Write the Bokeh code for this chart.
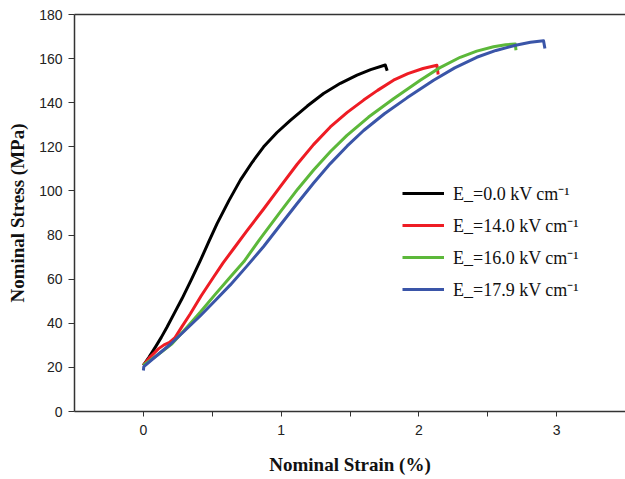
from bokeh.plotting import figure
from bokeh.models import Range1d, LinearAxis, FixedTicker, Legend, LegendItem
from bokeh.embed import file_html
from bokeh.resources import INLINE

# ---- data ----
labels = ["E_=0.0 kV cm\u207b\u00b9", "E_=14.0 kV cm\u207b\u00b9",
          "E_=16.0 kV cm\u207b\u00b9", "E_=17.9 kV cm\u207b\u00b9"]

strain_0 = [0, 0.04, 0.087, 0.13, 0.172, 0.225, 0.281, 0.35, 0.414, 0.475, 0.535, 0.62, 0.704, 0.79,
            0.873, 0.97, 1.067, 1.19, 1.308, 1.43, 1.551, 1.65, 1.756, 1.77]
stress_0 = [20.9, 24.6, 29.2, 33.6, 38.3, 44.6, 51.2, 60.0, 68.5, 77.0, 85.2, 95.5, 104.9, 113.0,
            120.0, 126.5, 132.0, 138.5, 144.2, 148.8, 152.5, 155.0, 157.1, 154.5]

strain_14 = [0, 0.05, 0.111, 0.15, 0.19, 0.23, 0.28, 0.341, 0.42, 0.51, 0.58, 0.655, 0.75, 0.873,
             0.99, 1.115, 1.235, 1.357, 1.48, 1.599, 1.70, 1.816, 1.92, 2.03, 2.131, 2.14]
stress_14 = [21, 24.8, 28.5, 30.2, 31.3, 33.5, 38.5, 44.3, 52.5, 61, 67.5, 73.8, 81.8, 91.8,
             101.6, 112, 121, 129, 135.6, 141.2, 145.6, 150.2, 153.2, 155.5, 157, 152.8]

strain_16 = [0, 0.1, 0.208, 0.31, 0.414, 0.52, 0.631, 0.73, 0.85, 0.994, 1.12, 1.236, 1.36, 1.478,
             1.635, 1.816, 2.01, 2.15, 2.30, 2.42, 2.542, 2.63, 2.70, 2.705]
stress_16 = [21, 25.5, 30.7, 37.8, 45.1, 53, 61, 68, 78.5, 90.5, 100.8, 109.5, 118, 125.2,
             133.5, 141.8, 150.2, 155.8, 160.6, 163.4, 165.4, 166.3, 166.6, 163.8]

strain_179 = [0, 0.003, 0.1, 0.196, 0.3, 0.414, 0.52, 0.631, 0.75, 0.873, 0.99, 1.115, 1.236, 1.357,
              1.48, 1.599, 1.75, 1.914, 2.107, 2.26, 2.42, 2.56, 2.711, 2.81, 2.905, 2.915]
stress_179 = [18.6, 20.3, 25.5, 30.5, 36.6, 43.4, 50.2, 57.4, 65.8, 74.8, 84.2, 94.2, 103.6, 112.4,
              120.4, 127.4, 135, 142.2, 150.2, 155.8, 160.6, 163.7, 166.2, 167.4, 168.1, 164.6]

series = [(strain_0, stress_0), (strain_14, stress_14), (strain_16, stress_16), (strain_179, stress_179)]
colors = ["#000000", "#ee1c24", "#5cb83a", "#3a55a8"]

x_ticks = [0, 1, 2, 3]
x_minor = [0.5, 1.5, 2.5]
y_ticks = list(range(0, 181, 20))

p = figure(width=625, height=479, output_backend="svg", toolbar_location=None,
           x_range=Range1d(-0.5, 3.5), y_range=Range1d(0, 180),
           min_border_left=74, min_border_right=0, min_border_top=14, min_border_bottom=68)
p.outline_line_color = None
p.grid.grid_line_color = None
p.background_fill_color = "white"

items = []
for (xs, ys), c, lab in zip(series, colors, labels):
    r = p.line(xs, ys, line_color=c, line_width=3, line_join="round")
    items.append(LegendItem(label=lab, renderers=[r]))

legend = Legend(items=items, location=(328, 110), glyph_width=42, glyph_height=20,
                label_height=20, spacing=8, label_standoff=9, padding=0, margin=0,
                border_line_color=None, background_fill_alpha=0,
                label_text_font="Liberation Serif", label_text_font_size="18px",
                label_text_color="#111111")
p.add_layout(legend, "center")

ax = p.xaxis[0]
ax.ticker = FixedTicker(ticks=x_ticks, minor_ticks=x_minor)
ax.axis_label = "Nominal Strain (%)"
ay = p.yaxis[0]
ay.ticker = FixedTicker(ticks=y_ticks)
ay.axis_label = "Nominal Stress (MPa)"

for a in (ax, ay):
    a.axis_line_color = "#333333"
    a.axis_line_width = 1.5
    a.major_tick_line_color = "#333333"
    a.minor_tick_line_color = "#333333"
    a.major_tick_in = 0
    a.minor_tick_in = 0
    a.major_label_text_font = "Liberation Sans"
    a.major_label_text_font_size = "14px"
    a.major_label_text_color = "#222222"
    a.axis_label_text_font = "Liberation Serif"
    a.axis_label_text_font_style = "bold"
    a.axis_label_text_font_size = "19px"
    a.axis_label_text_color = "#111111"

ax.major_tick_out = 5
ax.minor_tick_out = 5
ax.major_label_standoff = 8
ax.axis_label_standoff = 16
ay.major_tick_out = 6
ay.minor_tick_line_color = None
ay.major_label_standoff = 6
ay.axis_label_standoff = 8

top = LinearAxis(ticker=FixedTicker(ticks=[]), major_label_text_font_size="0px",
                 major_tick_out=0, major_tick_in=0, minor_tick_out=0, minor_tick_in=0,
                 axis_line_color="#333333", axis_line_width=1.5)
p.add_layout(top, "above")

open("out.html", "w").write(file_html(p, INLINE))
